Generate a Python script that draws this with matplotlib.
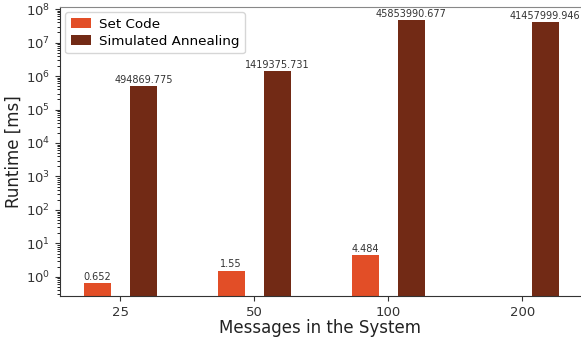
import matplotlib
matplotlib.use("Agg")
import matplotlib.pyplot as plt
import numpy as np

categories = ["25", "50", "100", "200"]
set_code = [0.652, 1.55, 4.484, None]
sim_anneal = [494869.775, 1419375.731, 45853990.677, 41457999.946]
set_code_labels = ["0.652", "1.55", "4.484", None]
sim_labels = ["494869.775", "1419375.731", "45853990.677", "41457999.946"]

c_set = "#E24E27"
c_sa = "#722A15"

fig = plt.figure(figsize=(5.81, 3.41), dpi=100)
ax = fig.add_axes([60/581, 45/341, (581-60)/581 - 0.001, (296-7)/341])

x = np.arange(len(categories))
w = 0.2
off = 0.172

for i in range(len(categories)):
    if set_code[i] is not None:
        ax.bar(x[i] - off, set_code[i], w, color=c_set,
               label="Set Code" if i == 0 else None)
        ax.text(x[i] - off, set_code[i] * 1.08, set_code_labels[i],
                ha="center", va="bottom", fontsize=7, color="#333333")
    ax.bar(x[i] + off, sim_anneal[i], w, color=c_sa,
           label="Simulated Annealing" if i == 0 else None)
    ax.text(x[i] + off, sim_anneal[i] * 1.08, sim_labels[i],
            ha="center", va="bottom", fontsize=7, color="#333333")

ax.set_yscale("log")
ax.set_ylim(0.27, 1.15e8)
ax.set_xlim(-0.45, 3.435)
ax.set_xticks(x)
ax.set_xticklabels(categories)
ax.tick_params(axis="x", labelsize=9.5, colors="#333333")
ax.tick_params(axis="y", labelsize=9.5, colors="#333333")
ax.set_yticks([10.0**k for k in range(0, 9)])
ax.set_xlabel("Messages in the System", fontsize=12, color="#222222", labelpad=0.5)
ax.set_ylabel("Runtime [ms]", fontsize=12, color="#222222", labelpad=2)

ax.spines["right"].set_visible(False)
ax.spines["top"].set_color("#888888")
ax.spines["left"].set_color("#333333")
ax.spines["bottom"].set_color("#333333")

ax.legend(loc="upper left", fontsize=9.7, frameon=True, edgecolor="#cccccc",
          handlelength=1.5, handletextpad=0.6, borderpad=0.4,
          labelspacing=0.3, borderaxespad=0.4)

fig.savefig("out.png", dpi=100)
